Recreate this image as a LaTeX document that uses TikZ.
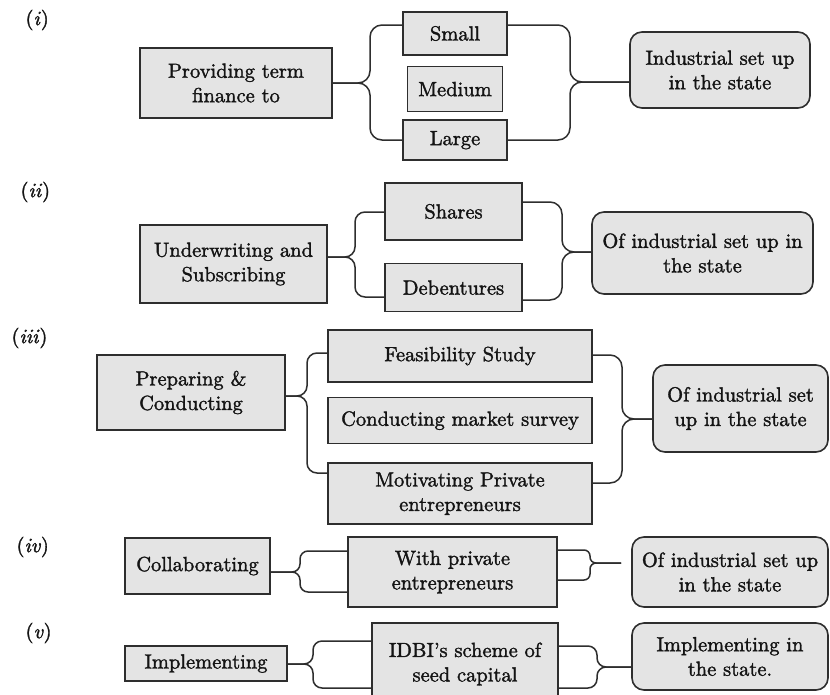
\documentclass[tikz,border=0pt]{standalone}
\usepackage{xcolor}
\usepackage{fontspec}
\setmainfont{lmroman10-regular.otf}[
  ItalicFont=lmroman10-italic.otf,
  BoldFont=lmroman10-bold.otf,
  RawFeature={embolden=1.6}]
\usepackage{tikz}
\usetikzlibrary{positioning}

\definecolor{boxgray}{HTML}{E4E4E4}
\definecolor{linegray}{HTML}{2E2E2E}

\begin{document}
\begin{tikzpicture}[
  x=1pt, y=-1pt,
  node distance=10pt,
  every node/.style={font=\fontsize{20.5}{24.5}\selectfont, text=black!92},
  item/.style={draw=linegray, line width=1.6pt, fill=boxgray, align=center, inner sep=0pt},
  goal/.style={item, rounded corners=12pt},
  brace/.style={draw=linegray, line width=1.5pt, rounded corners=10pt},
  tag/.style={anchor=west}
]
\useasboundingbox[fill=white] (0,0) rectangle (830,694);

% (i)
\node[tag] (ti) at (22,20) {(\textit{i})};
\node[item, minimum width=192pt, minimum height=70pt] (fin) at (236,83) {Providing term\\finance to};
\node[item, minimum width=104pt, minimum height=43pt] (small) at (455,33.5) {Small};
\node[item, minimum width=95pt, minimum height=45pt, below=10pt of small] (medium) {Medium};
\node[item, minimum width=104pt, minimum height=40pt, below=7pt of medium] (large) {Large};
\node[goal, minimum width=180pt, minimum height=76pt] (ind) at (720,70) {Industrial set up\\in the state};

\draw[brace, rounded corners=12pt] (fin.east) -- (370,83) -- (370,25) -- (small.west |- 0,25);
\draw[brace, rounded corners=12pt] (fin.east) -- (370,83) -- (370,140) -- (large.west |- 0,140);
\draw[brace, rounded corners=12pt] (small.east |- 0,25) -- (570,25) -- (570,82) -- (ind.west |- 0,82);
\draw[brace, rounded corners=12pt] (large.east |- 0,140) -- (570,140) -- (570,82) -- (ind.west |- 0,82);

% (ii)
\node[tag] (tii) at (17,192) {(\textit{ii})};
\node[item, minimum width=187pt, minimum height=78pt] (uw) at (233.5,264) {Underwriting and\\Subscribing};
\node[item, minimum width=137pt, minimum height=57pt] (shares) at (453.5,211.5) {Shares};
\node[item, minimum width=137pt, minimum height=48pt, below=22pt of shares] (deb) {Debentures};
\node[goal, minimum width=221pt, minimum height=82pt] (ind2) at (702.5,253) {Of industrial set up in\\the state};

\draw[brace] (uw.east |- 0,257) -- (355,257) -- (355,212) -- (shares.west |- 0,212);
\draw[brace] (uw.east |- 0,257) -- (355,257) -- (355,297) -- (deb.west |- 0,297);
\draw[brace, rounded corners=12pt] (shares.east |- 0,202) -- (562,202) -- (562,252) -- (ind2.west |- 0,252);
\draw[brace, rounded corners=12pt] (deb.east |- 0,300) -- (562,300) -- (562,252) -- (ind2.west |- 0,252);

% (iii)
\node[tag] (tiii) at (8,338) {(\textit{iii})};
\node[item, minimum width=188pt, minimum height=75pt] (prep) at (191,392.5) {Preparing \&\\Conducting};
\node[item, minimum width=264pt, minimum height=52pt] (feas) at (460,356) {Feasibility Study};
\node[item, minimum width=264pt, minimum height=46pt, below=14pt of feas] (survey) {Conducting market survey};
\node[item, minimum width=264pt, minimum height=61pt, below=18pt of survey] (motiv) {Motivating Private\\entrepreneurs};
\node[goal, minimum width=175pt, minimum height=87pt] (ind3) at (740.5,408.5) {Of industrial set\\up in the state};

\draw[brace] (prep.east |- 0,396) -- (307,396) -- (307,353) -- (feas.west |- 0,353);
\draw[brace] (prep.east |- 0,396) -- (307,396) -- (307,473) -- (motiv.west |- 0,473);
\draw[brace, rounded corners=12pt] (feas.east |- 0,355) -- (622,355) -- (622,419) -- (ind3.west |- 0,419);
\draw[brace, rounded corners=12pt] (motiv.east |- 0,483) -- (622,483) -- (622,419) -- (ind3.west |- 0,419);

% (iv)
\node[tag] (tiv) at (13,547) {(\textit{iv})};
\node[item, minimum width=145pt, minimum height=56pt] (coll) at (197.5,566) {Collaborating};
\node[item, minimum width=209pt, minimum height=70pt] (withp) at (452.5,572) {With private\\entrepreneurs};
\node[goal, minimum width=196pt, minimum height=70pt] (ind4) at (730,572) {Of industrial set up\\in the state};

\draw[brace, rounded corners=8pt] (coll.east |- 0,572) -- (300,572) -- (300,551) -- (withp.west |- 0,551);
\draw[brace, rounded corners=8pt] (coll.east |- 0,572) -- (300,572) -- (300,592) -- (withp.west |- 0,592);
\draw[brace, rounded corners=6pt, shorten >=10pt] (withp.east |- 0,550) -- (590,550) -- (590,563) -- (ind4.west |- 0,563);
\draw[brace, rounded corners=6pt, shorten >=10pt] (withp.east |- 0,580) -- (590,580) -- (590,563) -- (ind4.west |- 0,563);

% (v)
\node[tag] (tv) at (22,633) {(\textit{v})};
\node[item, minimum width=162pt, minimum height=35pt] (impl) at (206,663.5) {Implementing};
\node[item, minimum width=186pt, minimum height=82pt] (idbi) at (465,664) {IDBI’s scheme of\\seed capital};
\node[goal, minimum width=196pt, minimum height=67pt] (impl2) at (730,656.5) {Implementing in\\the state.};

\draw[brace, rounded corners=9pt] (impl.east |- 0,664) -- (313,664) -- (313,641) -- (idbi.west |- 0,641);
\draw[brace, rounded corners=9pt] (impl.east |- 0,664) -- (313,664) -- (313,688) -- (idbi.west |- 0,688);
\draw[brace, rounded corners=9pt] (idbi.east |- 0,646) -- (597,646) -- (597,667) -- (impl2.west |- 0,667);
\draw[brace, rounded corners=9pt] (idbi.east |- 0,688) -- (597,688) -- (597,667) -- (impl2.west |- 0,667);
\end{tikzpicture}
\end{document}
